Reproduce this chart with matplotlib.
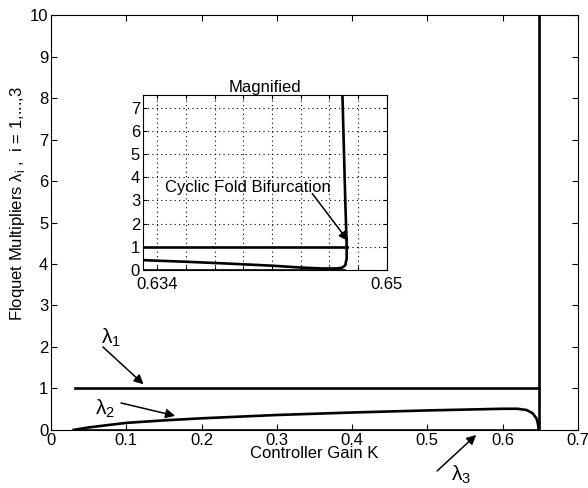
import numpy as np
import matplotlib
matplotlib.use("Agg")
import matplotlib.pyplot as plt

plt.rcParams['font.family'] = ['Liberation Sans', 'DejaVu Sans']
plt.rcParams['mathtext.fontset'] = 'custom'
plt.rcParams['mathtext.rm'] = 'Liberation Sans'

# main plot data (controller gain K vs Floquet multipliers)
k_lam1 = [0.032, 0.648]
lam1 = [1.0, 1.0]
k_lam2 = [0.03, 0.05, 0.1, 0.15, 0.2, 0.3, 0.4, 0.5, 0.6, 0.62, 0.632, 0.64, 0.645, 0.647, 0.648]
lam2 = [0.0, 0.06, 0.17, 0.23, 0.28, 0.36, 0.42, 0.47, 0.51, 0.51, 0.48, 0.40, 0.28, 0.15, 0.0]
k_lam3 = [0.03, 0.648]
lam3 = [0.0, 0.0]
k_fold = [0.648, 0.648]
lam_fold = [0.0, 10.5]

# magnified view data
k_in1 = [0.633, 0.6472]
lam_in1 = [1.0, 1.0]
k_in2 = [0.633, 0.636, 0.639, 0.642, 0.644, 0.6455, 0.6465, 0.6469, 0.6471, 0.6472, 0.6472, 0.6471, 0.6469]
lam_in2 = [0.42, 0.35, 0.27, 0.18, 0.10, 0.06, 0.06, 0.10, 0.20, 0.50, 1.0, 3.0, 7.6]
k_in3 = [0.633, 0.6470]
lam_in3 = [0.0, 0.0]

main_xticks = [0, 0.1, 0.2, 0.3, 0.4, 0.5, 0.6, 0.7]
main_xlabels = ['0', '0.1', '0.2', '0.3', '0.4', '0.5', '0.6', '0.7']
inset_xticks = [0.634, 0.636, 0.638, 0.640, 0.642, 0.644, 0.646, 0.648, 0.650]
inset_xlabels = ['0.634', '', '', '', '', '', '', '', '0.65']

fs = 12
lw = 1.9

fig = plt.figure(figsize=(5.88, 4.88), dpi=100)
ax = fig.add_axes([0.0867, 0.119, 0.896, 0.850])
ax.plot(k_lam1, lam1, color='black', lw=lw)
ax.plot(k_lam2, lam2, color='black', lw=lw)
ax.plot(k_lam3, lam3, color='black', lw=lw)
ax.plot(k_fold, lam_fold, color='black', lw=lw)
ax.set_xlim(0, 0.7)
ax.set_ylim(0, 10)
ax.set_xticks(main_xticks)
ax.set_xticklabels(main_xlabels)
ax.set_yticks(range(0, 11))
ax.tick_params(direction='in', top=True, right=True, labelsize=fs, length=4, width=0.8, pad=2)
ax.set_xlabel('Controller Gain K', fontsize=fs, labelpad=-1)
ax.set_ylabel('Floquet Multipliers λ$_\\mathrm{i}$ ,  i = 1,...,3', fontsize=fs)
ax.yaxis.set_label_coords(-0.045, 0.547)

arrow = dict(arrowstyle='-|>', color='black', lw=1.1, mutation_scale=14, shrinkA=0, shrinkB=0)
lam_fs = fs + 3
ax.text(0.066, 1.95, 'λ$_1$', fontsize=lam_fs, ha='left', va='bottom')
ax.annotate('', xy=(0.123, 1.1), xytext=(0.069, 2.0), arrowprops=arrow, annotation_clip=False)
ax.text(0.058, 0.5, 'λ$_2$', fontsize=lam_fs, ha='left', va='center')
ax.annotate('', xy=(0.165, 0.34), xytext=(0.093, 0.65), arrowprops=arrow, annotation_clip=False)
ax.annotate('', xy=(0.565, -0.12), xytext=(0.513, -0.99), arrowprops=arrow, annotation_clip=False)
ax.text(0.532, -1.08, 'λ$_3$', fontsize=lam_fs, ha='left', va='center')

ins = fig.add_axes([0.243, 0.447, 0.415, 0.358])
ins.plot(k_in1, lam_in1, color='black', lw=lw)
ins.plot(k_in3, lam_in3, color='black', lw=lw)
ins.plot(k_in2, lam_in2, color='black', lw=lw)
ins.set_xlim(0.633, 0.650)
ins.set_ylim(0, 7.55)
ins.set_xticks(inset_xticks)
ins.set_xticklabels(inset_xlabels)
ins.set_yticks(range(0, 8))
ins.tick_params(direction='in', top=True, right=True, labelsize=fs, length=3, width=0.8, pad=2)
ins.tick_params(axis='x', pad=5)
ins.grid(True, linestyle=(0, (1, 3)), color='black', lw=0.8)
ins.set_title('Magnified', fontsize=fs, pad=2)
ins.text(0.6403, 3.58, 'Cyclic Fold Bifurcation', fontsize=fs, ha='center', va='center')
ins.annotate('', xy=(0.6473, 1.25), xytext=(0.6448, 3.3), arrowprops=arrow)

fig.savefig('out.png', dpi=100)
